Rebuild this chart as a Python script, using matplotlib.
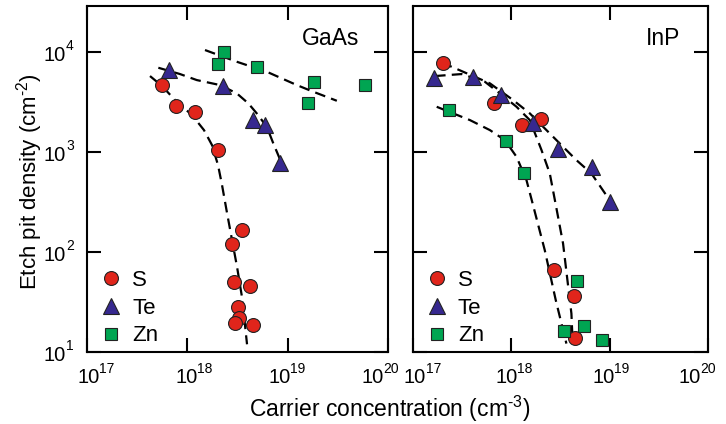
import numpy as np
import matplotlib
matplotlib.use("Agg")
from matplotlib import pyplot as plt
from matplotlib.ticker import FixedLocator, NullLocator, NullFormatter

plt.rcParams['font.family'] = ['Liberation Sans', 'DejaVu Sans']
plt.rcParams['mathtext.fontset'] = 'custom'
plt.rcParams['mathtext.rm'] = 'Liberation Sans'
plt.rcParams['mathtext.it'] = 'Liberation Sans:italic'
plt.rcParams['mathtext.bf'] = 'Liberation Sans:bold'

RED = '#e0251b'
BLUE = '#36288f'
GREEN = '#00a552'

# ---- GaAs measurements (carrier conc. cm^-3, etch pit density cm^-2)
gaas_s_x = [5.6e17, 7.7e17, 1.2e18, 2.0e18, 3.5e18, 2.8e18, 2.9e18, 4.2e18, 3.2e18, 3.3e18, 3.0e18, 4.5e18]
gaas_s_y = [4.6e3, 2.9e3, 2.5e3, 1.04e3, 164, 119, 50, 46, 28, 22, 19.5, 18.5]
gaas_te_x = [6.6e17, 2.25e18, 4.5e18, 6.0e18, 8.4e18]
gaas_te_y = [6.5e3, 4.5e3, 2.1e3, 1.84e3, 776]
gaas_zn_x = [2.3e18, 2.0e18, 4.9e18, 1.85e19, 1.6e19, 5.9e19]
gaas_zn_y = [1.0e4, 7.5e3, 7.1e3, 5.0e3, 3.1e3, 4.7e3]

# guide curves (log10 x, log10 y)
gaas_s_fit_lx = [17.628, 17.748, 17.887, 18.047, 18.166, 18.246, 18.306, 18.346, 18.396, 18.446, 18.496, 18.545, 18.595]
gaas_s_fit_ly = [3.757, 3.657, 3.507, 3.367, 3.217, 3.067, 2.867, 2.667, 2.387, 2.117, 1.847, 1.547, 1.077]
gaas_te_fit_lx = [17.711, 17.927, 18.094, 18.326, 18.493, 18.608, 18.692, 18.792, 18.857, 18.924]
gaas_te_fit_ly = [3.84, 3.777, 3.717, 3.667, 3.584, 3.484, 3.384, 3.25, 3.084, 2.924]
gaas_zn_fit_lx = [18.176, 18.493, 18.792, 19.091, 19.256, 19.49]
gaas_zn_fit_ly = [4.017, 3.9, 3.8, 3.667, 3.6, 3.51]

# ---- InP measurements
inp_s_x = [2.0e17, 6.6e17, 1.29e18, 2.0e18, 2.7e18, 4.3e18, 4.45e18]
inp_s_y = [7.8e3, 3.1e3, 1.85e3, 2.15e3, 66, 36, 13.8]
inp_te_x = [1.65e17, 4.1e17, 7.9e17, 1.66e18, 3.0e18, 6.6e18, 1.0e19]
inp_te_y = [5.5e3, 5.6e3, 3.7e3, 1.95e3, 1.06e3, 708, 316]
inp_zn_x = [2.3e17, 8.8e17, 1.34e18, 4.6e18, 3.4e18, 5.5e18, 8.3e18]
inp_zn_y = [2.6e3, 1.28e3, 608, 51, 16.3, 18.2, 13.1]

inp_te_fit_lx = [17.291, 17.393, 17.782, 18.018, 18.188, 18.357, 18.492, 18.662, 18.814, 19.0]
inp_te_fit_ly = [3.884, 3.85, 3.684, 3.517, 3.384, 3.217, 3.084, 2.917, 2.784, 2.517]
inp_s_fit_lx = [17.223, 17.494, 17.731, 17.883, 18.053, 18.188, 18.307, 18.391, 18.459, 18.526, 18.611, 18.624]
inp_s_fit_ly = [3.757, 3.777, 3.7, 3.584, 3.45, 3.317, 3.017, 2.784, 2.434, 2.084, 1.384, 1.087]
inp_zn_fit_lx = [17.241, 17.579, 17.782, 17.934, 18.053, 18.154, 18.221, 18.34, 18.452, 18.56]
inp_zn_fit_ly = [3.45, 3.317, 3.217, 3.117, 2.95, 2.717, 2.467, 2.017, 1.517, 1.084]

x_exps = [17, 18, 19, 20]
y_exps = [1, 2, 3, 4]

W, H = 726, 424
PT = 0.72  # points per pixel at dpi 100
fig = plt.figure(figsize=(W / 100, H / 100), dpi=100)
ax1 = fig.add_axes([87 / W, (H - 352) / H, 301 / W, 346 / H])
ax2 = fig.add_axes([413 / W, (H - 352) / H, 295 / W, 346 / H])

marker_kw = dict(ls='none', mec='#222222', mew=0.8)
line_kw = dict(color='black', lw=1.6, dashes=(4.8, 2.8), zorder=2)


def power_label(ax, xy, coords, dx, dy, base_ha, sup_dx, sup_dy, exp):
    # "10" plus a small raised exponent, offsets given in pixels
    ax.annotate('10', xy=xy, xycoords=coords, xytext=(dx * PT, dy * PT),
                textcoords='offset points', ha=base_ha, va='baseline',
                fontsize=14.5, annotation_clip=False)
    ax.annotate(str(exp), xy=xy, xycoords=coords, xytext=(sup_dx * PT, sup_dy * PT),
                textcoords='offset points', ha='left', va='baseline',
                fontsize=10, annotation_clip=False)


def draw_panel(ax, sx, sy, tx, ty, zx, zy, fits, name, x_nudge, ylabels=True):
    for lx, ly in fits:
        ax.plot(10 ** np.array(lx), 10 ** np.array(ly), **line_kw)
    ax.plot(sx, sy, marker='o', ms=10, color=RED, label='S', zorder=3, **marker_kw)
    ax.plot(tx, ty, marker='^', ms=11, color=BLUE, label='Te', zorder=3, **marker_kw)
    ax.plot(zx, zy, marker='s', ms=8.5, color=GREEN, label='Zn', zorder=3, **marker_kw)

    ax.set_xscale('log')
    ax.set_yscale('log')
    ax.set_xlim(1e17, 1e20)
    ax.set_ylim(10, 10 ** 4.457)
    ax.xaxis.set_major_locator(FixedLocator([10.0 ** e for e in x_exps]))
    ax.yaxis.set_major_locator(FixedLocator([10.0 ** e for e in y_exps]))
    ax.xaxis.set_minor_locator(NullLocator())
    ax.yaxis.set_minor_locator(NullLocator())
    ax.xaxis.set_major_formatter(NullFormatter())
    ax.yaxis.set_major_formatter(NullFormatter())
    ax.tick_params(which='major', direction='in', length=10, width=1.5,
                   top=True, right=True)
    for sp in ax.spines.values():
        sp.set_linewidth(1.5)

    for e, nx in zip(x_exps, x_nudge):
        power_label(ax, (10.0 ** e, 0), ('data', 'axes fraction'),
                    nx, -31, 'center', nx + 10.5, -21, e)
    if ylabels:
        for e in y_exps:
            power_label(ax, (0, 10.0 ** e), ('axes fraction', 'data'),
                        -21.5, -9.3, 'right', -21, 1.7, e)

    ax.text(0.905, 0.905, name, transform=ax.transAxes, ha='right', va='center', fontsize=16.5)
    ax.legend(loc='lower left', frameon=False, fontsize=16, handletextpad=0.45,
              labelspacing=0.3, borderaxespad=0, borderpad=0, handlelength=1.0,
              bbox_to_anchor=(0.043, 0.016))


draw_panel(ax1, gaas_s_x, gaas_s_y, gaas_te_x, gaas_te_y, gaas_zn_x, gaas_zn_y,
           [(gaas_s_fit_lx, gaas_s_fit_ly), (gaas_te_fit_lx, gaas_te_fit_ly),
            (gaas_zn_fit_lx, gaas_zn_fit_ly)], 'GaAs', [2, -1, -8, -15])
draw_panel(ax2, inp_s_x, inp_s_y, inp_te_x, inp_te_y, inp_zn_x, inp_zn_y,
           [(inp_te_fit_lx, inp_te_fit_ly), (inp_s_fit_lx, inp_s_fit_ly),
            (inp_zn_fit_lx, inp_zn_fit_ly)], 'InP', [2, -5, -6, -18], ylabels=False)

fig.text(30 / W, 1 - 182 / H, r'Etch pit density (cm$^{\text{-2}}$)', rotation=90,
         ha='center', va='center', fontsize=16)
fig.text(390 / W, 1 - 409 / H, r'Carrier concentration (cm$^{\text{-3}}$)', ha='center', va='center', fontsize=16.5)

fig.savefig('out.png', dpi=100)
